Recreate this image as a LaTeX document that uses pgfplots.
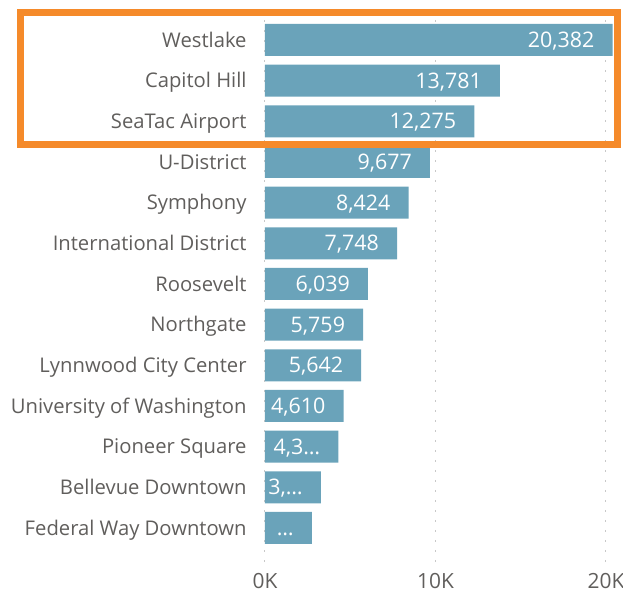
\documentclass[border=0pt]{standalone}
\usepackage{pgfplots}
\pgfplotsset{compat=1.18}
\usepackage{fontspec}
\setmainfont{Open Sans}
\definecolor{barc}{HTML}{6AA3BA}
\definecolor{orng}{HTML}{F58A2A}
\definecolor{txt}{HTML}{605E5C}
\definecolor{gridc}{HTML}{C8C8C8}
\begin{document}
\begin{tikzpicture}[x=1bp,y=1bp]
\path[use as bounding box] (-265,-31) rectangle (358,562);
\begin{axis}[
  at={(0,0)}, anchor=south west,
  scale only axis,
  width=347.5bp, height=542bp,
  xbar, bar width=32bp, bar shift=0pt,
  xmin=0, xmax=20382,
  ymin=-0.836, ymax=12.49,
  axis line style={draw=none},
  major tick style={draw=none},
  xtick={0,10000,20000},
  xticklabels={0K,10K,20K},
  ytick={0,1,2,3,4,5,6,7,8,9,10,11,12},
  yticklabels={Federal Way Downtown,Bellevue Downtown,Pioneer Square,University of Washington,Lynnwood City Center,Northgate,Roosevelt,International District,Symphony,U-District,SeaTac Airport,Capitol Hill,Westlake},
  xmajorgrids,
  grid style={gridc, line width=1bp, dash pattern=on 1.5bp off 8.5bp},
  y tick label style={font=\fontsize{20.3}{24}\selectfont, text=txt, inner sep=0pt, text height=14.5bp, text depth=0pt, xshift=-14bp},
  x tick label style={font=\fontsize{21}{24}\selectfont, text=txt, inner sep=0pt, anchor=north, yshift=-11bp},
  scaled x ticks=false,
  nodes near coords,
  point meta=explicit symbolic,
  every node near coord/.append style={anchor=east, xshift=-18bp, text=white, font=\fontsize{21.5}{24}\selectfont, inner sep=0pt, text height=15.3bp, text depth=0pt},
]
\addplot[fill=barc, draw=none] coordinates {
 (2750,0) [\ldots]
 (3270,1) [3,\ldots]
 (4310,2) [4,3\ldots]
 (4610,3) [4,610]
 (5642,4) [5,642]
 (5759,5) [5,759]
 (6039,6) [6,039]
 (7748,7) [7,748]
 (8424,8) [8,424]
 (9677,9) [9,677]
 (12275,10) [12,275]
 (13781,11) [13,781]
 (20382,12) [20,382]
};
\end{axis}
\draw[orng, line width=7bp] (-244,417) rectangle (352.5,549.3);
\end{tikzpicture}
\end{document}
